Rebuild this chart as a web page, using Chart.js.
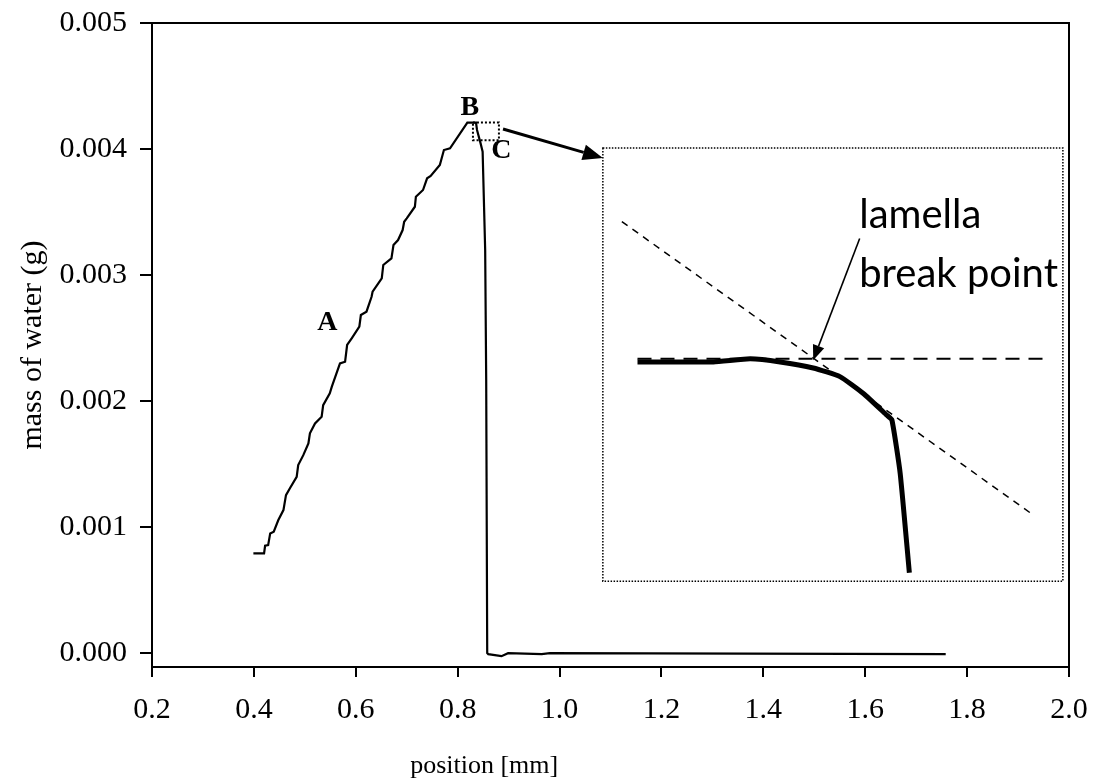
<!DOCTYPE html>
<html>
<head>
<meta charset="utf-8">
<script src="https://cdn.jsdelivr.net/npm/chart.js@4.4.0/dist/chart.umd.min.js"></script>
<style>
  html, body { margin: 0; padding: 0; background: #fff; }
  #wrap { position: relative; width: 1095px; height: 784px; }
  #insetBox { position: absolute; }
</style>
</head>
<body>
<div id="wrap">
  <canvas id="mainChart" width="1095" height="784"></canvas>
  <div id="insetBox"><canvas id="insetChart"></canvas></div>
</div>
<script>
// measured curve: position [mm] vs mass of water (g)
const positionMm = [0.399, 0.420, 0.422, 0.428, 0.432, 0.439, 0.448, 0.458, 0.463, 0.471,
  0.484, 0.487, 0.497, 0.507, 0.510, 0.520, 0.533, 0.536, 0.549, 0.553,
  0.569, 0.579, 0.583, 0.592, 0.607, 0.610, 0.621, 0.631, 0.633, 0.651,
  0.654, 0.670, 0.674, 0.683, 0.692, 0.695, 0.700, 0.716, 0.718, 0.732,
  0.740, 0.747, 0.765, 0.773, 0.785, 0.819, 0.836, 0.838, 0.845, 0.849,
  0.854, 0.856, 0.858, 0.860, 0.886, 0.899, 0.965, 0.981, 1.758];
const massWater = [0.000791, 0.000791, 0.000852, 0.000857, 0.000950, 0.000963, 0.001056, 0.001135, 0.001254, 0.001310,
  0.001399, 0.001492, 0.001571, 0.001664, 0.001744, 0.001823, 0.001876, 0.001968, 0.002061, 0.002114,
  0.002299, 0.002312, 0.002445, 0.002498, 0.002590, 0.002683, 0.002709, 0.002828, 0.002868, 0.002974,
  0.003080, 0.003133, 0.003238, 0.003278, 0.003357, 0.003423, 0.003450, 0.003542, 0.003622, 0.003675,
  0.003768, 0.003786, 0.003873, 0.003992, 0.004006, 0.004209, 0.004209, 0.004151, 0.004045, 0.003979,
  0.003198, 0.002167, 0.000000, -0.000008, -0.000024, 0.000000, -0.000008, 0.000000, -0.000008];
const yTicks = [0, 0.001, 0.002, 0.003, 0.004, 0.005];

// annotations, in data units of the main chart
const pointLabels = [
  { text: 'A', x: 0.544, y: 0.00262 },
  { text: 'B', x: 0.824, y: 0.00433 },
  { text: 'C', x: 0.886, y: 0.00399 }
];
const zoomBox = { x0: 0.830, x1: 0.881, y0: 0.00407, y1: 0.00421 };
const insetBox = { x0: 1.085, x1: 1.988, y0: 0.000571, y1: 0.004008 };
const zoomArrow = { x0: 0.889, y0: 0.004159, x1: 1.085, y1: 0.003929 };
const xTitleAt = 0.852;

// inset (units: % of inset width / height)
const insetX = [7.5, 24.0, 32.0, 38.5, 45.7, 51.5, 56.6, 61.7, 62.8, 64.6, 66.6];
const insetY = [50.6, 50.6, 51.3, 50.6, 49.2, 47.2, 43.3, 38.3, 37.2, 24.9, 1.9];
const plateauX = [7.5, 95.7];
const plateauY = [51.3, 51.3];
const tangentX = [4.1, 92.8];
const tangentY = [83.0, 15.8];
const breakArrow = { x0: 55.8, y0: 79.1, x1: 45.7, y1: 51.0 };
const breakText = [
  { text: 'lamella', x: 55.7, y: 81.5 },
  { text: 'break point', x: 55.7, y: 68.0 }
];

Chart.defaults.font.family = "'Liberation Serif', 'Times New Roman', serif";
Chart.defaults.color = '#000';

function drawArrow(ctx, x0, y0, x1, y1, len, half, width) {
  const a = Math.atan2(y1 - y0, x1 - x0);
  const bx = x1 - len * Math.cos(a), by = y1 - len * Math.sin(a);
  ctx.save();
  ctx.strokeStyle = '#000';
  ctx.fillStyle = '#000';
  ctx.lineWidth = width;
  ctx.setLineDash([]);
  ctx.beginPath();
  ctx.moveTo(x0, y0);
  ctx.lineTo(bx, by);
  ctx.stroke();
  ctx.beginPath();
  ctx.moveTo(x1, y1);
  ctx.lineTo(bx + half * Math.sin(a), by - half * Math.cos(a));
  ctx.lineTo(bx - half * Math.sin(a), by + half * Math.cos(a));
  ctx.closePath();
  ctx.fill();
  ctx.restore();
}

const mainExtras = {
  id: 'mainExtras',
  afterDatasetsDraw(chart) {
    const { ctx, chartArea: a, scales: { x, y } } = chart;
    ctx.save();
    // plot area frame
    ctx.strokeStyle = '#000';
    ctx.lineWidth = 2;
    ctx.strokeRect(a.left, a.top, a.right - a.left, a.bottom - a.top);
    // small dotted zoom box
    ctx.setLineDash([2, 2]);
    ctx.lineWidth = 2;
    ctx.strokeRect(x.getPixelForValue(zoomBox.x0), y.getPixelForValue(zoomBox.y1),
      x.getPixelForValue(zoomBox.x1) - x.getPixelForValue(zoomBox.x0),
      y.getPixelForValue(zoomBox.y0) - y.getPixelForValue(zoomBox.y1));
    // inset frame
    ctx.setLineDash([1.5, 1.5]);
    ctx.lineWidth = 1.5;
    ctx.strokeRect(x.getPixelForValue(insetBox.x0), y.getPixelForValue(insetBox.y1),
      x.getPixelForValue(insetBox.x1) - x.getPixelForValue(insetBox.x0),
      y.getPixelForValue(insetBox.y0) - y.getPixelForValue(insetBox.y1));
    ctx.restore();
    drawArrow(ctx, x.getPixelForValue(zoomArrow.x0), y.getPixelForValue(zoomArrow.y0),
      x.getPixelForValue(zoomArrow.x1), y.getPixelForValue(zoomArrow.y1), 20, 8, 3);
    ctx.save();
    ctx.fillStyle = '#000';
    ctx.textAlign = 'center';
    ctx.textBaseline = 'middle';
    ctx.font = "bold 28px 'Liberation Serif', serif";
    pointLabels.forEach(p => ctx.fillText(p.text, x.getPixelForValue(p.x), y.getPixelForValue(p.y)));
    // x axis title
    ctx.font = "26px 'Liberation Serif', serif";
    ctx.fillText('position [mm]', x.getPixelForValue(xTitleAt), chart.height - 18);
    ctx.restore();
  }
};

const main = new Chart('mainChart', {
  type: 'line',
  data: {
    datasets: [{
      data: positionMm.map((v, i) => ({ x: v, y: massWater[i] })),
      borderColor: '#000',
      borderWidth: 2.2,
      pointRadius: 0,
      tension: 0,
      fill: false
    }]
  },
  options: {
    responsive: false,
    animation: false,
    layout: { padding: { top: 23, right: 26, left: 0, bottom: 0 } },
    plugins: { legend: { display: false }, tooltip: { enabled: false } },
    scales: {
      x: {
        type: 'linear',
        min: 0.2,
        max: 2.0,
        ticks: { stepSize: 0.2, font: { size: 30 }, padding: 15, maxRotation: 0, callback: v => v.toFixed(1) },
        grid: { drawOnChartArea: false, tickLength: 10, color: '#000', lineWidth: 2 },
        border: { color: '#000', width: 2 },
        afterFit: s => { s.height = 117; s.paddingLeft = 0; s.paddingRight = 0; }
      },
      y: {
        type: 'linear',
        min: -0.00011,
        max: 0.005,
        afterBuildTicks: s => { s.ticks = yTicks.map(v => ({ value: v })); },
        ticks: { font: { size: 30 }, padding: 13, callback: v => v.toFixed(3) },
        grid: { drawOnChartArea: false, tickLength: 12, color: '#000', lineWidth: 2 },
        border: { color: '#000', width: 2 },
        title: { display: true, text: 'mass of water (g)', font: { size: 30 }, padding: { top: 15, bottom: 0 } },
        afterFit: s => { s.width = 152; s.paddingTop = 0; s.paddingBottom = 0; }
      }
    }
  },
  plugins: [mainExtras]
});

// inset chart sits inside the dotted frame
const L = main.scales.x.getPixelForValue(insetBox.x0);
const R = main.scales.x.getPixelForValue(insetBox.x1);
const T = main.scales.y.getPixelForValue(insetBox.y1);
const B = main.scales.y.getPixelForValue(insetBox.y0);
const box = document.getElementById('insetBox');
box.style.left = L + 'px';
box.style.top = T + 'px';
const ic = document.getElementById('insetChart');
ic.width = Math.round(R - L);
ic.height = Math.round(B - T);

const insetExtras = {
  id: 'insetExtras',
  afterDatasetsDraw(chart) {
    const { ctx, scales: { x, y } } = chart;
    drawArrow(ctx, x.getPixelForValue(breakArrow.x0), y.getPixelForValue(breakArrow.y0),
      x.getPixelForValue(breakArrow.x1), y.getPixelForValue(breakArrow.y1), 15, 6, 1.6);
    ctx.save();
    ctx.font = "40px Lato, 'Open Sans', sans-serif";
    ctx.fillStyle = '#000';
    ctx.textAlign = 'left';
    ctx.textBaseline = 'alphabetic';
    breakText.forEach(t => ctx.fillText(t.text, x.getPixelForValue(t.x), y.getPixelForValue(t.y)));
    ctx.restore();
  }
};

new Chart(ic, {
  type: 'line',
  data: {
    datasets: [
      {
        data: insetX.map((v, i) => ({ x: v, y: insetY[i] })),
        borderColor: '#000', borderWidth: 5, pointRadius: 0, tension: 0.15, fill: false
      },
      {
        data: plateauX.map((v, i) => ({ x: v, y: plateauY[i] })),
        borderColor: '#000', borderWidth: 2, borderDash: [14, 9], pointRadius: 0, fill: false
      },
      {
        data: tangentX.map((v, i) => ({ x: v, y: tangentY[i] })),
        borderColor: '#000', borderWidth: 1.5, borderDash: [7, 6], pointRadius: 0, fill: false
      }
    ]
  },
  options: {
    responsive: false,
    animation: false,
    layout: { padding: 0 },
    plugins: { legend: { display: false }, tooltip: { enabled: false } },
    scales: {
      x: { type: 'linear', min: 0, max: 100, display: false },
      y: { type: 'linear', min: 0, max: 100, display: false }
    }
  },
  plugins: [insetExtras]
});
</script>
</body>
</html>
